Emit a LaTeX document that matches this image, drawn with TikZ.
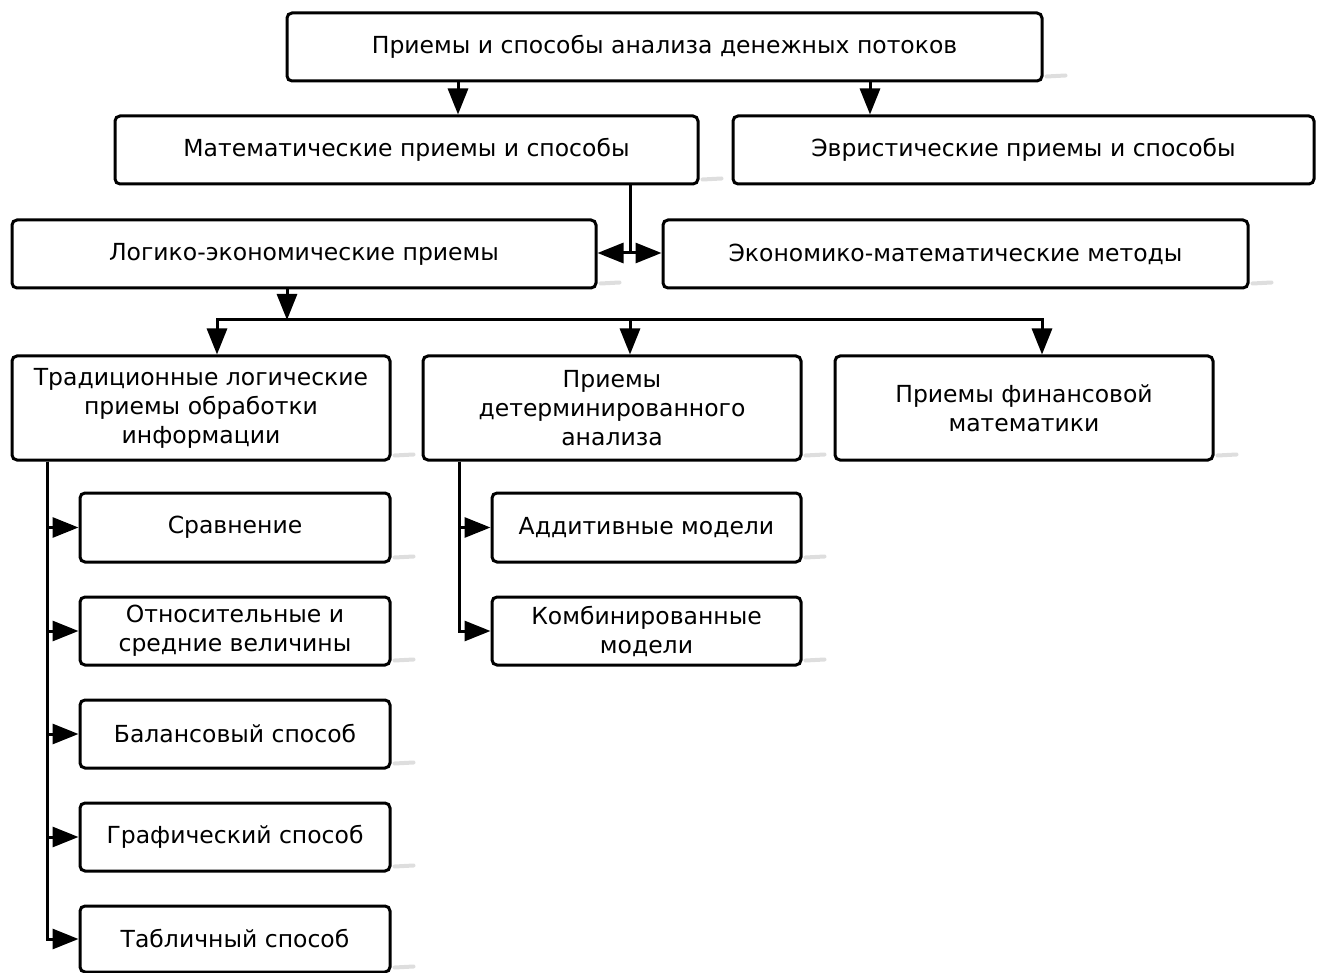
\documentclass[tikz,border=0pt]{standalone}
\usepackage{fontspec}
\setmainfont{DejaVu Sans}
\usetikzlibrary{arrows.meta,calc}
\begin{document}
\begin{tikzpicture}[x=1pt,y=-1pt,line width=3pt,
  box/.style={draw,rounded corners=5pt,fill=white,align=center,inner sep=0pt,
    font=\fontsize{23.5}{29}\selectfont},
  arr/.style={-{Triangle[length=26pt,width=20pt]},line width=3pt},
  shd/.style={draw=black!13,line width=4pt,line cap=round}]
\useasboundingbox (0,0) rectangle (1317,973);
% boxes
\node[box,minimum width=755pt,minimum height=68pt] (top) at (664.5,47) {Приемы и способы анализа денежных потоков};
\node[box,minimum width=583pt,minimum height=68pt] (math) at (406.5,150) {Математические приемы и способы};
\node[box,minimum width=581pt,minimum height=68pt] (heur) at (1023.5,150) {Эвристические приемы и способы};
\node[box,minimum width=584pt,minimum height=68pt] (logic) at (304,254) {Логико-экономические приемы};
\node[box,minimum width=585pt,minimum height=68pt] (econ) at (955.5,254) {Экономико-математические методы};
\node[box,minimum width=378pt,minimum height=104pt] (trad) at (201,408) {Традиционные логические\\приемы обработки\\информации};
\node[box,minimum width=378pt,minimum height=104pt] (det) at (612,408) {Приемы\\детерминированного\\анализа};
\node[box,minimum width=378pt,minimum height=104pt] (fin) at (1024,408) {Приемы финансовой\\математики};
\node[box,minimum width=310pt,minimum height=69pt] (cmp) at (235,527.5) {Сравнение};
\node[box,minimum width=310pt,minimum height=68pt] (rel) at (235,631) {Относительные и\\средние величины};
\node[box,minimum width=310pt,minimum height=68pt] (bal) at (235,734) {Балансовый способ};
\node[box,minimum width=310pt,minimum height=68pt] (gra) at (235,837) {Графический способ};
\node[box,minimum width=310pt,minimum height=66pt] (tab) at (235,939) {Табличный способ};
\node[box,minimum width=309pt,minimum height=69pt] (add) at (646.5,527.5) {Аддитивные модели};
\node[box,minimum width=309pt,minimum height=68pt] (comb) at (646.5,631) {Комбинированные\\модели};
% shadows
\foreach \n in {top,math,logic,econ,trad,det,fin,cmp,rel,bal,gra,tab,add,comb}
  \draw[shd] ($(\n.south east)+(3,-6)$) -- ++(19,-1);
% helper coordinates
\coordinate (x458) at (458,0);
\coordinate (x870) at (870,0);
\coordinate (split) at (630,253);
\coordinate (b287) at (287,320);
\coordinate (b217) at (217,320);
\coordinate (b630) at (630,320);
\coordinate (b1042) at (1042,320);
\coordinate (v47) at (47,0);
\coordinate (v459) at (459,0);
% connectors
\draw[arr] (top.south -| x458) -- (math.north -| x458);
\draw[arr] (top.south -| x870) -- (heur.north -| x870);
\draw (math.south -| split) -- (split);
\draw[arr] (split) -- (logic.east |- split);
\draw[arr] (split) -- (econ.west |- split);
\draw[arr] (logic.south -| b287) -- (b287);
\draw[arr] (b287) -| (trad.north -| b217);
\draw[arr] (b287) -| (fin.north -| b1042);
\draw[arr] (b630) -- (det.north -| b630);
\foreach \n in {cmp,rel,bal,gra,tab}
  \draw[arr] (trad.south -| v47) |- (\n.west);
\foreach \n in {add,comb}
  \draw[arr] (det.south -| v459) |- (\n.west);
\end{tikzpicture}
\end{document}
